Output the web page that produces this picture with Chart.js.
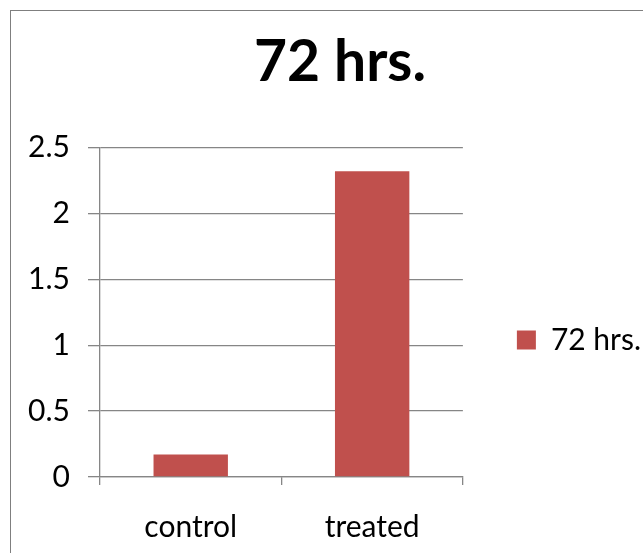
<!DOCTYPE html>
<html>
<head>
<meta charset="utf-8">
<script src="https://cdn.jsdelivr.net/npm/chart.js@4"></script>
<style>
  body { margin: 0; background: #fff; overflow: hidden; }
  #frame { position: absolute; left: 10px; top: 10px; width: 700px; height: 700px; border: 1px solid #7f7f7f; }
  #chart { position: absolute; left: 0; top: 0; }
</style>
</head>
<body>
<div id="frame"></div>
<canvas id="chart" width="652" height="680"></canvas>
<script>
// data
const categories = ['control', 'treated'];
const seriesName = '72 hrs.';
const values = [0.17, 2.32];
const yTicks = { min: 0, max: 2.5, step: 0.5 };

const gridColor = '#868686';
const barColor = '#C0504D';
const font = 'Lato';

// the original chart is wider than the visible crop, so its title sits right of centre
const titleShift = {
  id: 'titleShift',
  afterLayout(chart) {
    chart.titleBlock.left += 114.5;
    chart.titleBlock.right += 114.5;
  }
};

const ctx = document.getElementById('chart').getContext('2d');
new Chart(ctx, {
  type: 'bar',
  data: {
    labels: categories,
    datasets: [{
      label: seriesName,
      data: values,
      backgroundColor: barColor,
      barPercentage: 0.41,
      categoryPercentage: 1
    }]
  },
  plugins: [titleShift],
  options: {
    responsive: false,
    animation: false,
    // negative left padding keeps the right legend from being capped in width
    layout: { padding: { left: -200, right: 1, top: 0, bottom: 0 } },
    plugins: {
      title: {
        display: true,
        text: seriesName,
        color: '#000',
        font: { family: font, size: 57, weight: 'bold' },
        padding: { top: 28, bottom: 51 }
      },
      legend: {
        position: 'right',
        labels: {
          color: '#000',
          font: { family: font, size: 30 },
          boxWidth: 19,
          boxHeight: 19,
          padding: 54
        }
      },
      tooltip: { enabled: false }
    },
    scales: {
      x: {
        afterFit: s => { s.height = 203; },
        grid: { drawOnChartArea: false, color: gridColor, lineWidth: 1.3, tickLength: 8 },
        border: { color: gridColor, width: 1.3 },
        ticks: { color: '#000', font: { family: font, size: 30 }, padding: 24 }
      },
      y: {
        min: yTicks.min,
        max: yTicks.max,
        afterFit: s => { s.width = 300; },
        grid: { color: gridColor, lineWidth: 1.3, tickLength: 12 },
        border: { color: gridColor, width: 1.3 },
        ticks: {
          stepSize: yTicks.step,
          color: '#000',
          font: { family: font, size: 30 },
          padding: 18,
          callback: v => String(v)
        }
      }
    }
  }
});
</script>
</body>
</html>
